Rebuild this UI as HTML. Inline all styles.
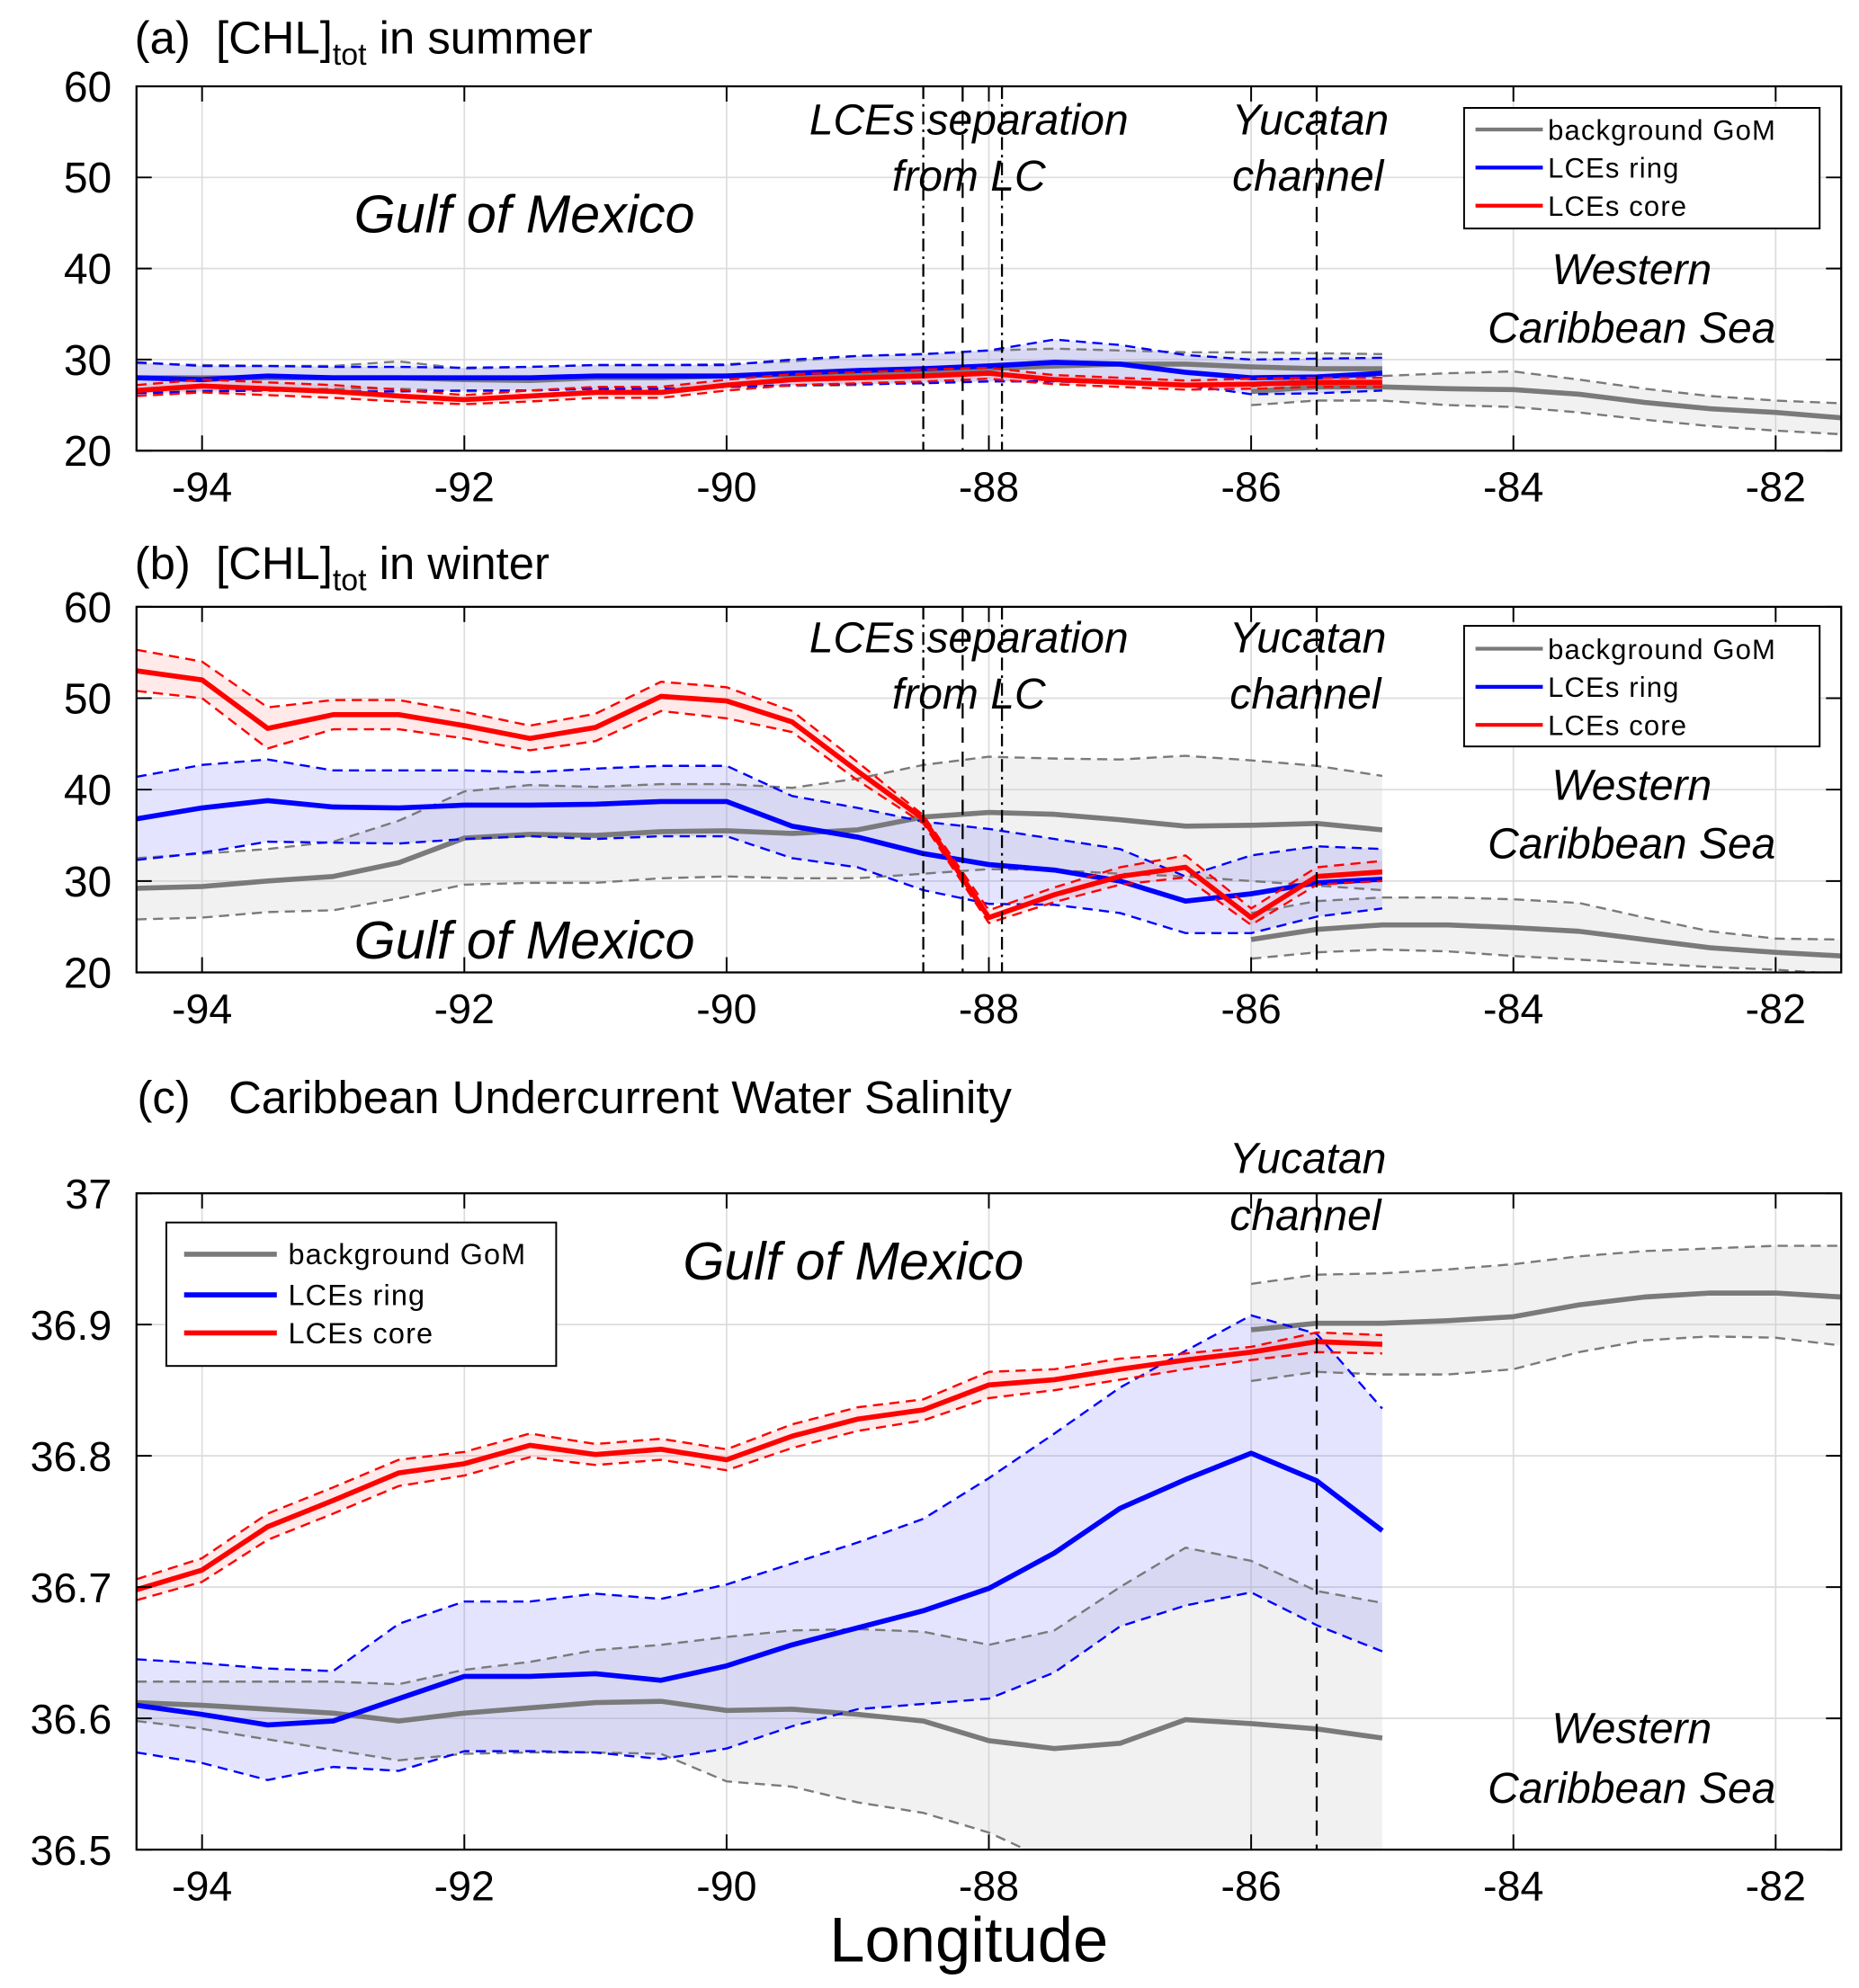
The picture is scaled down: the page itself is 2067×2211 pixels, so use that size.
<!DOCTYPE html>
<html><head><meta charset="utf-8">
<style>
html,body{margin:0;padding:0;background:#fff;}
svg{display:block;}
text{font-family:"Liberation Sans",sans-serif;}
</style></head>
<body>
<svg id="fig" width="2067" height="2211" viewBox="0 0 1464 1566" preserveAspectRatio="none" xmlns="http://www.w3.org/2000/svg"></svg>
<script>
// ---------- data ----------
const lonGoM = [-94.5,-94,-93.5,-93,-92.5,-92,-91.5,-91,-90.5,-90,-89.5,-89,-88.5,-88,-87.5,-87,-86.5,-86,-85.5,-85];
const lonCar = [-86,-85.5,-85,-84.5,-84,-83.5,-83,-82.5,-82,-81.5];
const xTicks = [-94,-92,-90,-88,-86,-84,-82];

// panel a
const aBgMean = [28,28,28,28,28,27.8,27.7,28,28,28.2,28.3,28.3,28.7,29,29.3,29.5,29.5,29.2,29,29];
const aBgUp   = [29.6,29.4,29.3,29.3,29.8,29,29.2,29.4,29.4,29.5,29.8,30.4,30.6,31,31.2,31,30.8,30.8,30.7,30.6];
const aBgLo   = [26.4,26.6,26.7,26.8,26.8,26.5,26.6,26.8,26.8,27,27.1,27.2,27.5,27.6,27.6,27.4,27.2,27.2,27.2,27.2];
const aRingMean = [28,27.8,28.2,28,28,28,28,28.2,28.2,28.2,28.5,28.8,29,29.3,29.7,29.5,28.6,28,28.1,28.5];
const aRingUp   = [29.7,29.3,29.3,29.2,29.2,29.1,29.2,29.4,29.4,29.4,30,30.4,30.6,31,32.2,31.6,30.5,30,30.1,30.2];
const aRingLo   = [26.3,26.5,26.6,26.5,26.5,26.6,26.6,26.8,26.8,27,27.2,27.3,27.4,27.6,27.6,27.4,27.2,26.2,26.3,26.6];
const aCoreMean = [26.6,27.1,26.8,26.5,26,25.6,26,26.4,26.4,27.2,27.8,28,28.2,28.5,27.8,27.5,27.2,27.3,27.5,27.5];
const aCoreUp   = [27.2,27.8,27.5,27.2,26.7,26.1,26.6,27,27,27.8,28.4,28.6,28.9,29.1,28.3,28,27.7,27.9,28,28];
const aCoreLo   = [26,26.4,26.1,25.8,25.4,25.1,25.4,25.8,25.8,26.6,27.2,27.4,27.6,27.9,27.3,27,26.7,26.8,27,27];
const aCarMean = [26.5,27,27,26.8,26.7,26.2,25.3,24.6,24.2,23.6];
const aCarUp   = [27,28,28.2,28.5,28.7,27.8,26.8,26,25.5,25.2];
const aCarLo   = [25,25.5,25.5,25,24.8,24.2,23.4,22.7,22.2,21.8];

// panel b
const bBgMean = [29.2,29.4,30,30.5,32,34.7,35.1,35,35.4,35.5,35.2,35.6,37,37.5,37.3,36.7,36,36.1,36.3,35.6];
const bBgUp   = [32.5,33,33.5,34.3,36.6,39.8,40.5,40.3,40.6,40.6,40.2,41.2,42.7,43.6,43.4,43.3,43.7,43.2,42.6,41.5];
const bBgLo   = [25.8,26,26.6,26.8,28.1,29.6,29.8,29.8,30.3,30.5,30.3,30.3,30.8,31.3,31.2,30.8,30.5,30,29.5,29];
const bRingMean = [36.8,38,38.8,38.1,38,38.3,38.3,38.4,38.7,38.7,36,34.8,33,31.8,31.2,30,27.8,28.6,29.8,30.2];
const bRingUp   = [41.4,42.7,43.3,42.1,42.1,42.1,41.9,42.3,42.6,42.6,39.3,38,36.5,35.7,34.6,33.5,30.5,32.8,33.8,33.5];
const bRingLo   = [32.3,33.1,34.3,34.2,34.1,34.6,34.9,34.6,34.9,34.9,32.5,31.5,29,27.5,27.4,26.5,24.3,24.3,26.1,27];
const bCoreMean = [53,52,46.7,48.2,48.2,47,45.6,46.8,50.2,49.7,47.4,42,36.8,26,28.5,30.5,31.5,26,30.5,31];
const bCoreUp   = [55.3,54,49,49.8,49.8,48.5,47,48.3,51.8,51.2,48.6,43,37.2,26.8,29.3,31.5,32.8,27,31.5,32.2];
const bCoreLo   = [50.8,50,44.5,46.6,46.6,45.6,44.3,45.3,48.6,47.8,46.3,41,36.3,25.4,27.7,29.6,30.4,25.2,29.6,30];
const bCarMean = [23.6,24.7,25.2,25.2,24.9,24.5,23.6,22.7,22.2,21.8];
const bCarUp   = [26.5,27.8,28.2,28.2,28,27.6,26,24.5,23.7,23.6];
const bCarLo   = [21.5,22.2,22.5,22.3,21.8,21.4,21,20.6,20.3,19.8];

// panel c
const cBgMean = [36.612,36.61,36.607,36.604,36.598,36.604,36.608,36.612,36.613,36.606,36.607,36.603,36.598,36.583,36.577,36.581,36.599,36.596,36.592,36.585];
const cBgUp   = [36.628,36.628,36.628,36.628,36.626,36.637,36.643,36.652,36.656,36.662,36.667,36.668,36.666,36.656,36.667,36.7,36.73,36.72,36.697,36.688];
const cBgLo   = [36.598,36.592,36.584,36.576,36.568,36.573,36.574,36.574,36.573,36.552,36.548,36.536,36.528,36.513,36.49,36.47,36.44,36.41,36.38,36.35];
const cRingMean = [36.61,36.603,36.595,36.598,36.615,36.632,36.632,36.634,36.629,36.64,36.656,36.669,36.682,36.699,36.726,36.76,36.782,36.802,36.781,36.743];
const cRingUp   = [36.645,36.642,36.638,36.636,36.672,36.689,36.689,36.695,36.691,36.702,36.718,36.734,36.752,36.783,36.817,36.852,36.88,36.907,36.893,36.836];
const cRingLo   = [36.574,36.566,36.553,36.563,36.56,36.575,36.575,36.574,36.569,36.577,36.594,36.607,36.611,36.615,36.635,36.67,36.686,36.696,36.671,36.651];
const cCoreMean = [36.698,36.713,36.746,36.766,36.787,36.794,36.808,36.801,36.805,36.797,36.815,36.828,36.835,36.854,36.858,36.866,36.873,36.879,36.887,36.885];
const cCoreUp   = [36.706,36.722,36.756,36.776,36.797,36.803,36.817,36.809,36.813,36.805,36.824,36.837,36.843,36.864,36.866,36.874,36.878,36.883,36.894,36.892];
const cCoreLo   = [36.69,36.704,36.736,36.756,36.777,36.785,36.799,36.793,36.797,36.789,36.806,36.819,36.827,36.844,36.85,36.858,36.866,36.873,36.879,36.878];
const cCarMean = [36.896,36.901,36.901,36.903,36.906,36.915,36.921,36.924,36.924,36.921];
const cCarUp   = [36.931,36.938,36.939,36.942,36.946,36.952,36.956,36.958,36.96,36.96];
const cCarLo   = [36.857,36.864,36.862,36.862,36.866,36.879,36.888,36.891,36.89,36.884];

const yTicksA = [20,30,40,50,60];
const yTicksC = [36.5,36.6,36.7,36.8,36.9,37];
const sepLines = [-88.5,-88.2,-87.9];
const yucatanLon = -85.5;

// ---------- drawing ----------
const NS = "http://www.w3.org/2000/svg";
const svg = document.getElementById("fig");
function mk(tag, attrs, parent) {
  const e = document.createElementNS(NS, tag);
  for (const k in attrs) e.setAttribute(k, attrs[k]);
  (parent || svg).appendChild(e);
  return e;
}
const L = 107.5, R = 1450, XMIN = -94.5, XMAX = -81.5;
function xs(v) { return L + (v - XMIN) / (XMAX - XMIN) * (R - L); }

function panel(id, top, bot, ymin, ymax, yTicks) {
  const g = mk("g", {});
  
  
  const ys = v => bot - (v - ymin) / (ymax - ymin) * (bot - top);
  const clipId = "clip" + id;
  const cp = mk("clipPath", { id: clipId }, g);
  mk("rect", { x: L, y: top, width: R - L, height: bot - top }, cp);
  for (const t of xTicks) {
    const gl = mk("line", { x1: xs(t), x2: xs(t), y1: top, y2: bot, stroke: "#dcdcdc", "stroke-width": 1.2 }, g);
    
    
  }
  for (const t of yTicks) {
    const gl = mk("line", { x1: L, x2: R, y1: ys(t), y2: ys(t), stroke: "#dcdcdc", "stroke-width": 1.2 }, g);
    
    
  }
  const pg = mk("g", { "clip-path": "url(#" + clipId + ")" }, g);
  return { g, pg, ys, top, bot };
}
function band(P, lon, up, lo, fill, opacity, name) {
  let d = "";
  lon.forEach((v, i) => { d += (i ? "L" : "M") + xs(v) + "," + P.ys(up[i]); });
  for (let i = lon.length - 1; i >= 0; i--) d += "L" + xs(lon[i]) + "," + P.ys(lo[i]);
  const p = mk("path", { d: d + "Z", fill: fill, "fill-opacity": opacity, stroke: "none" }, P.pg);
  
  
}
function line(P, lon, vals, color, w, dash, name) {
  const pts = lon.map((v, i) => xs(v) + "," + P.ys(vals[i])).join(" ");
  const a = { points: pts, fill: "none", stroke: color, "stroke-width": w, "stroke-linejoin": "round" };
  if (dash) a["stroke-dasharray"] = dash;
  const p = mk("polyline", a, P.pg);
  
  
}
function series(P, bgM, bgU, bgL, rM, rU, rL, cM, cU, cL, carM, carU, carL) {
  band(P, lonGoM, bgU, bgL, "#c8c8c8", 0.25, "background-band");
  band(P, lonCar, carU, carL, "#c8c8c8", 0.25, "caribbean-band");
  band(P, lonGoM, rU, rL, "#6b6bff", 0.18, "ring-band");
  band(P, lonGoM, cU, cL, "#ff6b6b", 0.15, "core-band");
  const gr = "#7a7a7a", bl = "#0000ff", rd = "#ff0000", ds = "8,5";
  line(P, lonGoM, bgU, gr, 1.7, ds, "background-upper");
  line(P, lonGoM, bgL, gr, 1.7, ds, "background-lower");
  line(P, lonCar, carU, gr, 1.7, ds, "caribbean-upper");
  line(P, lonCar, carL, gr, 1.7, ds, "caribbean-lower");
  line(P, lonGoM, bgM, gr, 4, null, "background-mean");
  line(P, lonCar, carM, gr, 4, null, "caribbean-mean");
  line(P, lonGoM, rU, bl, 1.7, ds, "ring-upper");
  line(P, lonGoM, rL, bl, 1.7, ds, "ring-lower");
  line(P, lonGoM, rM, bl, 4, null, "ring-mean");
  line(P, lonGoM, cU, rd, 1.7, ds, "core-upper");
  line(P, lonGoM, cL, rd, 1.7, ds, "core-lower");
  line(P, lonGoM, cM, rd, 4, null, "core-mean");
}
function vlines(P, list) {
  list.forEach(v => {
    const dash = (v === yucatanLon || Math.abs(v + 88.2) < 1e-6) ? "12,7" : "10,4,2,4";
    const l = mk("line", { x1: xs(v), x2: xs(v), y1: P.top, y2: P.bot, stroke: "#000", "stroke-width": 1.6, "stroke-dasharray": dash }, P.g);
    
    
  });
}
function frame(P, yTicks, fmt, fs) {
  const r = mk("rect", { x: L, y: P.top, width: R - L, height: P.bot - P.top, fill: "none", stroke: "#000", "stroke-width": 1.6 }, P.g);
  
  
  for (const t of xTicks) {
    mk("line", { x1: xs(t), x2: xs(t), y1: P.bot, y2: P.bot - 12, stroke: "#000", "stroke-width": 1.4 }, P.g);
    mk("line", { x1: xs(t), x2: xs(t), y1: P.top, y2: P.top + 12, stroke: "#000", "stroke-width": 1.4 }, P.g);
    const tx = mk("text", { x: xs(t), y: P.bot + 40, "font-size": 33, "text-anchor": "middle" }, P.g);
    tx.textContent = String(t);
    
    
  }
  for (const t of yTicks) {
    mk("line", { x1: L, x2: L + 12, y1: P.ys(t), y2: P.ys(t), stroke: "#000", "stroke-width": 1.4 }, P.g);
    mk("line", { x1: R, x2: R - 12, y1: P.ys(t), y2: P.ys(t), stroke: "#000", "stroke-width": 1.4 }, P.g);
    const tx = mk("text", { x: 88, y: P.ys(t) + 12, "font-size": fs, "text-anchor": "end" }, P.g);
    tx.textContent = fmt(t);
    
    
  }
}
function txt(s, x, y, size, opts) {
  const a = Object.assign({ x: x, y: y, "font-size": size }, opts || {});
  const t = mk("text", a);
  t.textContent = s;
  return t;
}
function legend(x, y, w, h, rowY, lx1, lx2, tx, fs, lw) {
  const g = mk("g", {});
  
  
  mk("rect", { x: x, y: y, width: w, height: h, fill: "#fff", stroke: "#000", "stroke-width": 1.4 }, g);
  const items = [["background GoM", "#7a7a7a"], ["LCEs ring", "#0000ff"], ["LCEs core", "#ff0000"]];
  items.forEach((it, i) => {
    const e = mk("g", {}, g);
    
    
    mk("line", { x1: lx1, x2: lx2, y1: rowY[i], y2: rowY[i], stroke: it[1], "stroke-width": lw }, e);
    const t = mk("text", { x: tx, y: rowY[i] + 8, "font-size": fs, "letter-spacing": "0.8" }, e);
    t.textContent = it[0];
  });
}
function annot(s, x, y, size, name) {
  const t = txt(s, x, y, size, { "text-anchor": "middle", "font-style": "italic" });
  
  
}

const PA = panel("a", 68, 355, 20, 60, yTicksA);
series(PA, aBgMean, aBgUp, aBgLo, aRingMean, aRingUp, aRingLo, aCoreMean, aCoreUp, aCoreLo, aCarMean, aCarUp, aCarLo);
vlines(PA, sepLines.concat([yucatanLon]));
frame(PA, yTicksA, v => String(v), 34);
const PB = panel("b", 478, 766, 20, 60, yTicksA);
series(PB, bBgMean, bBgUp, bBgLo, bRingMean, bRingUp, bRingLo, bCoreMean, bCoreUp, bCoreLo, bCarMean, bCarUp, bCarLo);
vlines(PB, sepLines.concat([yucatanLon]));
frame(PB, yTicksA, v => String(v), 34);
const PC = panel("c", 940, 1457, 36.5, 37, yTicksC);
series(PC, cBgMean, cBgUp, cBgLo, cRingMean, cRingUp, cRingLo, cCoreMean, cCoreUp, cCoreLo, cCarMean, cCarUp, cCarLo);
vlines(PC, [yucatanLon]);
frame(PC, yTicksC, v => (v === 37 ? "37" : v.toFixed(1)), 33);

let t;
t = txt("", 106, 42, 36);
t.innerHTML = '(a)\u00a0 [CHL]<tspan font-size="24" dy="9">tot</tspan><tspan dy="-9"> in summer</tspan>';


t = txt("", 106, 456, 36);
t.innerHTML = '(b)\u00a0 [CHL]<tspan font-size="24" dy="9">tot</tspan><tspan dy="-9"> in winter</tspan>';


t = txt("(c)\u00a0\u00a0 Caribbean Undercurrent Water Salinity", 108, 877, 36);


t = txt("Longitude", 763, 1545, 50, { "text-anchor": "middle" });



annot("LCEs separation", 763, 106, 34, "separation-label");
annot("from LC", 763, 150, 34, "separation-label-2");
annot("Yucatan", 1032, 106, 34, "yucatan-label");
annot("channel", 1030, 150, 34, "yucatan-label-2");
annot("Gulf of Mexico", 413, 183, 42, "gulf-label");
annot("Western", 1285, 224, 34, "western-label");
annot("Caribbean Sea", 1285, 270, 34, "caribbean-label");

annot("LCEs separation", 763, 514, 34, "separation-label");
annot("from LC", 763, 558, 34, "separation-label-2");
annot("Yucatan", 1030, 514, 34, "yucatan-label");
annot("channel", 1028, 558, 34, "yucatan-label-2");
annot("Gulf of Mexico", 413, 755, 42, "gulf-label");
annot("Western", 1285, 630, 34, "western-label");
annot("Caribbean Sea", 1285, 676, 34, "caribbean-label");

annot("Yucatan", 1030, 924, 34, "yucatan-label");
annot("channel", 1028, 969, 34, "yucatan-label-2");
annot("Gulf of Mexico", 672, 1008, 42, "gulf-label");
annot("Western", 1285, 1373, 34, "western-label");
annot("Caribbean Sea", 1285, 1420, 34, "caribbean-label");

legend(1153, 85, 280, 95, [102, 132, 162], 1162, 1215, 1219, 22, 3);
legend(1153, 493, 280, 95, [511, 541, 571], 1162, 1215, 1219, 22, 3);
legend(131, 963, 307, 113, [988, 1020, 1050], 145, 218, 227, 23, 4);
</script>
</body></html>
